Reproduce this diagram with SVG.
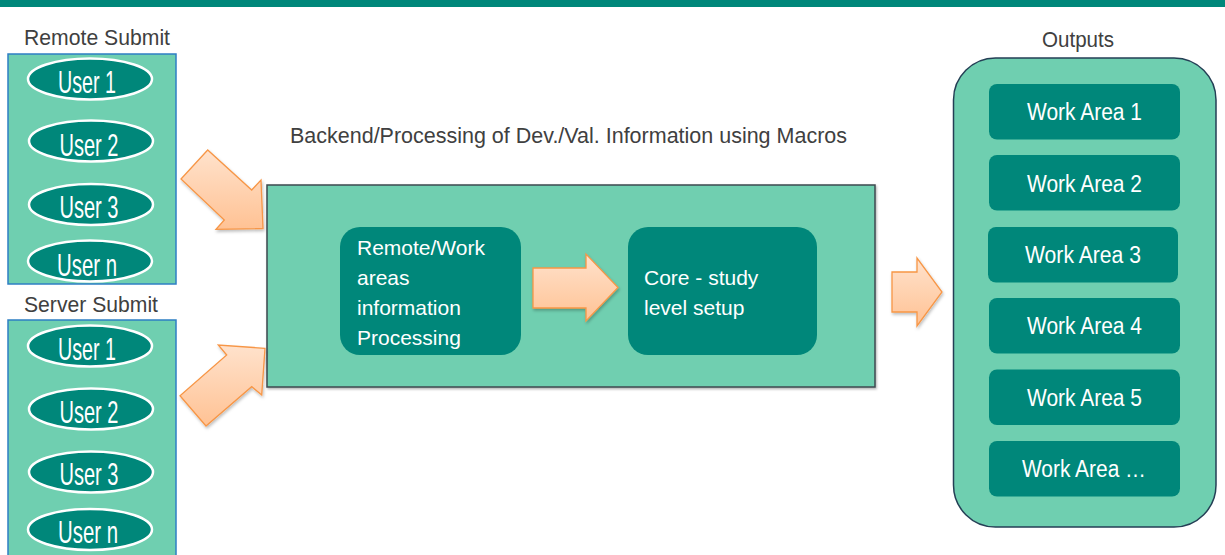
<svg xmlns="http://www.w3.org/2000/svg" width="1225" height="555" viewBox="0 0 1225 555">
  <style>
    .lbl { font-family: "Liberation Sans", Arial, sans-serif; fill: #404040; font-size: 22px; }
    .panel { fill: #6FCFB0; stroke: #2E7FC4; stroke-width: 1.5; }
    .user { fill: #00877A; stroke: #FFFFFF; stroke-width: 2.5; }
    .utxt { font-family: "Liberation Sans", Arial, sans-serif; fill: #FFFFFF; font-size: 32px; text-anchor: middle; }
    .card { fill: #00877A; }
    .ctxt { font-family: "Liberation Sans", Arial, sans-serif; fill: #FFFFFF; font-size: 21px; }
    .wtxt { font-family: "Liberation Sans", Arial, sans-serif; fill: #FFFFFF; font-size: 23px; text-anchor: middle; }
    .arrow { fill: url(#peach); stroke: #F79646; stroke-width: 1.3; stroke-linejoin: miter; filter: url(#shade); }
  </style>
  <defs>
    <linearGradient id="peach" x1="0" y1="0" x2="0" y2="1">
      <stop offset="0" stop-color="#FFE2CC"/>
      <stop offset="1" stop-color="#FFC294"/>
    </linearGradient>
    <filter id="shade" x="-20%" y="-20%" width="140%" height="140%">
      <feDropShadow dx="1" dy="2" stdDeviation="1.5" flood-color="#000000" flood-opacity="0.25"/>
    </filter>
    <filter id="boxshade" x="-5%" y="-5%" width="110%" height="110%">
      <feDropShadow dx="1" dy="1.5" stdDeviation="1" flood-color="#000000" flood-opacity="0.3"/>
    </filter>
  </defs>

  <!-- header rule -->
  <rect x="0" y="0" width="1225" height="7" fill="#00877A"/>

  <!-- remote submission group -->
  <g id="remote-submit">
    <text class="lbl" x="24" y="45" textLength="146" lengthAdjust="spacingAndGlyphs">Remote Submit</text>
    <rect class="panel" x="8" y="54" width="168" height="230"/>
    <ellipse class="user" cx="90" cy="79" rx="62" ry="20.5"/>
    <text class="utxt" x="87" y="93" textLength="58" lengthAdjust="spacingAndGlyphs">User 1</text>
    <ellipse class="user" cx="91" cy="141" rx="62" ry="20.5"/>
    <text class="utxt" x="89" y="156" textLength="59" lengthAdjust="spacingAndGlyphs">User 2</text>
    <ellipse class="user" cx="91" cy="204.5" rx="62" ry="20.5"/>
    <text class="utxt" x="89" y="218" textLength="59" lengthAdjust="spacingAndGlyphs">User 3</text>
    <ellipse class="user" cx="90" cy="261" rx="62" ry="20.5"/>
    <text class="utxt" x="87" y="276" textLength="60" lengthAdjust="spacingAndGlyphs">User n</text>
  </g>

  <!-- server submission group -->
  <g id="server-submit">
    <text class="lbl" x="24" y="312" textLength="134" lengthAdjust="spacingAndGlyphs">Server Submit</text>
    <rect class="panel" x="8" y="320" width="168" height="240"/>
    <ellipse class="user" cx="90" cy="346" rx="62" ry="20.5"/>
    <text class="utxt" x="87" y="360" textLength="58" lengthAdjust="spacingAndGlyphs">User 1</text>
    <ellipse class="user" cx="91" cy="409" rx="62" ry="20.5"/>
    <text class="utxt" x="89" y="423" textLength="59" lengthAdjust="spacingAndGlyphs">User 2</text>
    <ellipse class="user" cx="91" cy="472" rx="62" ry="20.5"/>
    <text class="utxt" x="89" y="485" textLength="59" lengthAdjust="spacingAndGlyphs">User 3</text>
    <ellipse class="user" cx="90" cy="529.5" rx="62" ry="20.5"/>
    <text class="utxt" x="88" y="543" textLength="60" lengthAdjust="spacingAndGlyphs">User n</text>
  </g>

  <!-- backend processing block -->
  <g id="backend">
    <text class="lbl" x="290" y="143" font-size="21" textLength="557" lengthAdjust="spacingAndGlyphs">Backend/Processing of Dev./Val. Information using Macros</text>
    <rect x="267" y="185" width="608" height="202" fill="#6FCFB0" stroke="#3F4A4F" stroke-width="1.5" filter="url(#boxshade)"/>
  </g>

  <g id="work-area-processing">
    <rect class="card" x="340" y="227" width="181" height="128" rx="20"/>
    <text class="ctxt" x="357" y="255" textLength="128" lengthAdjust="spacingAndGlyphs">Remote/Work</text>
    <text class="ctxt" x="357" y="285">areas</text>
    <text class="ctxt" x="357" y="315">information</text>
    <text class="ctxt" x="357" y="345">Processing</text>
  </g>

  <g id="core-setup">
    <rect class="card" x="628" y="227" width="189" height="128" rx="20"/>
    <text class="ctxt" x="644" y="285">Core - study</text>
    <text class="ctxt" x="644" y="315">level setup</text>
  </g>

  <!-- outputs container -->
  <g id="outputs">
    <text class="lbl" x="1042" y="47" textLength="72" lengthAdjust="spacingAndGlyphs">Outputs</text>
    <rect x="953.5" y="58" width="262.5" height="469" rx="42" fill="#6FCFB0" stroke="#243F55" stroke-width="1.5"/>
  </g>
  <g id="work-area-1">
    <rect class="card" x="989" y="84" width="191" height="55.5" rx="8"/>
    <text class="wtxt" x="1084.5" y="120" textLength="115" lengthAdjust="spacingAndGlyphs">Work Area 1</text>
  </g>
  <g id="work-area-2">
    <rect class="card" x="989" y="155" width="191" height="55.5" rx="8"/>
    <text class="wtxt" x="1084.5" y="192" textLength="115" lengthAdjust="spacingAndGlyphs">Work Area 2</text>
  </g>
  <g id="work-area-3">
    <rect class="card" x="988" y="227" width="190" height="55.5" rx="8"/>
    <text class="wtxt" x="1083" y="263" textLength="116" lengthAdjust="spacingAndGlyphs">Work Area 3</text>
  </g>
  <g id="work-area-4">
    <rect class="card" x="989" y="298" width="191" height="55.5" rx="8"/>
    <text class="wtxt" x="1084.5" y="334" textLength="115" lengthAdjust="spacingAndGlyphs">Work Area 4</text>
  </g>
  <g id="work-area-5">
    <rect class="card" x="989" y="369.5" width="191" height="55.5" rx="8"/>
    <text class="wtxt" x="1084.5" y="405.5" textLength="115" lengthAdjust="spacingAndGlyphs">Work Area 5</text>
  </g>
  <g id="work-area-n">
    <rect class="card" x="989" y="441" width="191" height="55.5" rx="8"/>
    <text class="wtxt" x="1084" y="477" textLength="124" lengthAdjust="spacingAndGlyphs">Work Area …</text>
  </g>

  <!-- block arrows -->
  <g id="connectors">
    <polygon class="arrow" points="207.7,150 181,179 224.3,220 216,229.3 263,228.5 261,180 251.7,190"/>
    <polygon class="arrow" points="265,348.3 218.3,345 226.7,355 180,395.7 206,426 251.7,386.7 261.7,395"/>
    <polygon class="arrow" points="533,268 586,268 586,254 618,287.5 586,321 586,308 533,308"/>
    <polygon class="arrow" points="892,272 917,272 917,258 942,292 917,326 917,312 892,312"/>
  </g>
</svg>
